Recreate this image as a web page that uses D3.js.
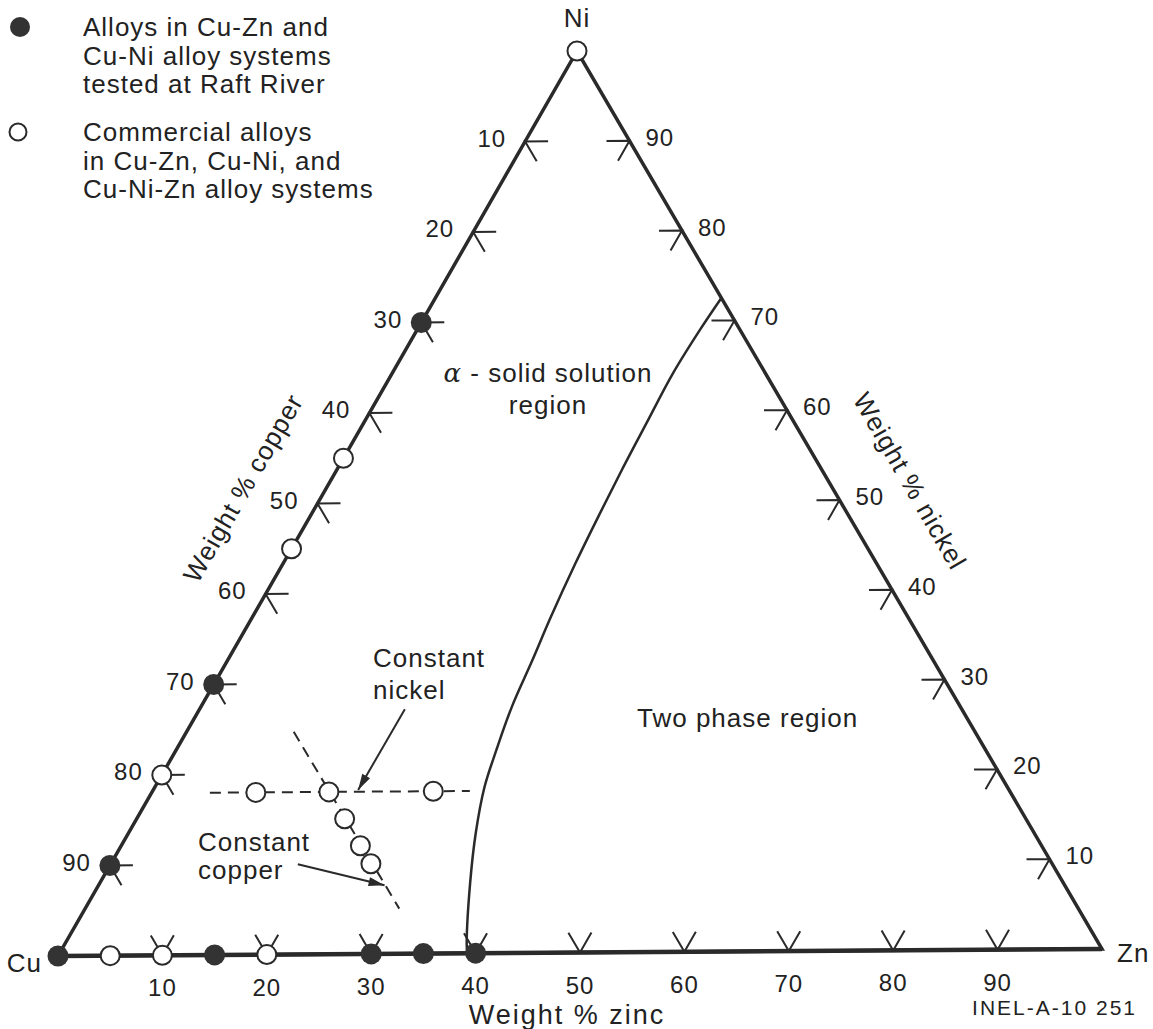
<!DOCTYPE html>
<html>
<head>
<meta charset="utf-8">
<script src="https://cdn.jsdelivr.net/npm/d3@7"></script>
<style>
  body { margin: 0; background: #fff; }
  svg text { font-family: "Liberation Sans", Arial, sans-serif; fill: #222; letter-spacing: 1px; }
</style>
</head>
<body>
<svg id="chart" width="1153" height="1029"></svg>
<script>
// ternary points are given as [zinc %, nickel %]; copper is the rest
const tickValues = [10, 20, 30, 40, 50, 60, 70, 80, 90];

// filled dots: tested at Raft River
const raftRiver = [[0, 0], [0, 70], [0, 30], [0, 10], [15, 0], [30, 0], [35, 0], [40, 0]];
// open dots: commercial alloys
const commercial = [[0, 100], [0, 55], [0, 45], [0, 20], [5, 0], [10, 0], [20, 0],
  [10, 18], [17, 18], [27, 18], [20, 15], [23, 12], [25, 10]];

// alpha / two phase boundary
const boundary = [[39.2, 0], [38.6, 1.1], [35.6, 7.8], [33.4, 13.3], [31.7, 18.4], [30.8, 22.5],
  [29.9, 27.3], [29.3, 32.5], [28.7, 37.2], [28.1, 43.2], [27.7, 48.7], [27.4, 53.8],
  [27.2, 58.7], [27.0, 64.2], [27.2, 69.0], [27.5, 72.5]];

const constNickel = [[5.6, 18], [30.5, 18]];
const constCopper = [[10.3, 24.7], [30.2, 5]];
const arrowNickel = [[19.75, 27.1], [19.7, 18.2]];
const arrowCopper = [[18.0, 10.0], [27.5, 7.6]];

const svg = d3.select("#chart");
const ink = "#2a2a2a";

// triangle corners on the page
const Cu = [58, 956], Zn = [1102, 949], Ni = [577, 51];
const sZn = d3.scaleLinear().domain([0, 100]).range([0, 1]);
const sNi = d3.scaleLinear().domain([0, 100]).range([0, 1]);
function proj(p) {
    const a = sZn(p[0]), b = sNi(p[1]);
    return [Cu[0] + a * (Zn[0] - Cu[0]) + b * (Ni[0] - Cu[0]),
            Cu[1] + a * (Zn[1] - Cu[1]) + b * (Ni[1] - Cu[1])];
}
function unit(a, b) {
    const dx = b[0] - a[0], dy = b[1] - a[1], l = Math.hypot(dx, dy);
    return [dx / l, dy / l];
}
const dCN = unit(Cu, Ni), dZN = unit(Zn, Ni), dCZ = unit(Cu, Zn);
const line = d3.line().x(d => proj(d)[0]).y(d => proj(d)[1]);

svg.append("defs").append("marker")
    .attr("id", "head").attr("markerUnits", "userSpaceOnUse")
    .attr("viewBox", "0 -5 16 10").attr("refX", 16).attr("refY", 0)
    .attr("markerWidth", 17).attr("markerHeight", 10).attr("orient", "auto")
    .append("path").attr("d", "M0,-4.5L16,0L0,4.5Z").attr("fill", ink);

// ticks: two short arms pointing along the other two sides
const armLen = 23;
const ticks = [];
tickValues.forEach(v => {
    ticks.push({ p: proj([v, 0]), a: dCN, b: dZN });                           // zinc (bottom)
    ticks.push({ p: proj([0, 100 - v]), a: dCZ, b: [-dZN[0], -dZN[1]] });       // copper (left)
    ticks.push({ p: proj([100 - v, v]), a: [-dCZ[0], -dCZ[1]], b: [-dCN[0], -dCN[1]] }); // nickel (right)
});
const tg = svg.append("g").attr("stroke", ink).attr("stroke-width", 2).attr("fill", "none");
ticks.forEach(t => {
    tg.append("path").attr("d",
        `M${t.p[0] + t.a[0] * armLen},${t.p[1] + t.a[1] * armLen}L${t.p[0]},${t.p[1]}L${t.p[0] + t.b[0] * armLen},${t.p[1] + t.b[1] * armLen}`);
});

// triangle
svg.append("path")
    .attr("d", line([[0, 0], [100, 0], [0, 100]]) + "Z")
    .attr("fill", "none").attr("stroke", ink).attr("stroke-width", 3.5).attr("stroke-linejoin", "miter");
svg.append("path").attr("d", line([[0, 0], [100, 0]]))
    .attr("fill", "none").attr("stroke", ink).attr("stroke-width", 4.5);

// phase boundary
const smooth = d3.line().x(d => proj(d)[0]).y(d => proj(d)[1]).curve(d3.curveCatmullRom);
svg.append("path")
    .attr("d", smooth(boundary))
    .attr("fill", "none").attr("stroke", ink).attr("stroke-width", 2.5);

// constant nickel / copper dashed lines
[constNickel, constCopper].forEach(seg => {
    svg.append("path").attr("d", line(seg))
        .attr("fill", "none").attr("stroke", ink).attr("stroke-width", 2)
        .attr("stroke-dasharray", "11,7");
});

// arrows
[arrowNickel, arrowCopper].forEach(seg => {
    svg.append("path").attr("d", line(seg))
        .attr("fill", "none").attr("stroke", ink).attr("stroke-width", 2)
        .attr("marker-end", "url(#head)");
});

// alloy dots
svg.append("g").selectAll("circle").data(commercial).join("circle")
    .attr("cx", d => proj(d)[0]).attr("cy", d => proj(d)[1]).attr("r", 9.5)
    .attr("fill", "#fff").attr("stroke", ink).attr("stroke-width", 2);
svg.append("g").selectAll("circle").data(raftRiver).join("circle")
    .attr("cx", d => proj(d)[0]).attr("cy", d => proj(d)[1]).attr("r", 10.5)
    .attr("fill", "#333");

// tick labels
const lab = svg.append("g").attr("font-size", 24);
tickValues.forEach(v => {
    let p = proj([v, 0]);
    lab.append("text").attr("x", p[0]).attr("y", p[1] + 41).attr("text-anchor", "middle").text(v);
    p = proj([0, 100 - v]);
    lab.append("text").attr("x", p[0] - 19).attr("y", p[1] + 5).attr("text-anchor", "end").text(v);
    p = proj([100 - v, v]);
    lab.append("text").attr("x", p[0] + 16).attr("y", p[1] + 5).attr("text-anchor", "start").text(v);
});

// corner labels and titles
const txt = (x, y, s, anchor, size) => svg.append("text").attr("x", x).attr("y", y)
    .attr("text-anchor", anchor || "start").attr("font-size", size || 26).text(s);
txt(577, 27, "Ni", "middle");
txt(42, 972, "Cu", "end");
txt(1117, 962, "Zn", "start");
txt(567, 1024, "Weight % zinc", "middle", 27).style("letter-spacing", "2px");
txt(1137, 1015, "INEL-A-10 251", "end", 21).style("letter-spacing", "2px");

svg.append("text").attr("transform", "translate(243,488) rotate(-60)")
    .attr("text-anchor", "middle").attr("dy", "0.35em").attr("font-size", 26).text("Weight % copper");
svg.append("text").attr("transform", "translate(910,481) rotate(60)")
    .attr("text-anchor", "middle").attr("dy", "0.35em").attr("font-size", 26).text("Weight % nickel");

// region labels
const alpha = svg.append("text").attr("x", 548).attr("y", 382).attr("text-anchor", "middle").attr("font-size", 26);
alpha.append("tspan").attr("font-family", "DejaVu Serif").attr("font-style", "italic").text("α");
alpha.append("tspan").text(" - solid solution");
txt(548, 414, "region", "middle");
txt(637, 727, "Two phase region");
txt(373, 667, "Constant");
txt(373, 699, "nickel");
txt(198, 851, "Constant");
txt(198, 879, "copper");

// legend
svg.append("circle").attr("cx", 20).attr("cy", 27).attr("r", 10).attr("fill", "#333");
svg.append("circle").attr("cx", 18).attr("cy", 132).attr("r", 8.5).attr("fill", "#fff")
    .attr("stroke", ink).attr("stroke-width", 2);
["Alloys in Cu-Zn and", "Cu-Ni alloy systems", "tested at Raft River"]
    .forEach((s, i) => txt(83, 36 + i * 28.5, s));
["Commercial alloys", "in Cu-Zn, Cu-Ni, and", "Cu-Ni-Zn alloy systems"]
    .forEach((s, i) => txt(83, 141 + i * 28.5, s));
</script>
</body>
</html>
